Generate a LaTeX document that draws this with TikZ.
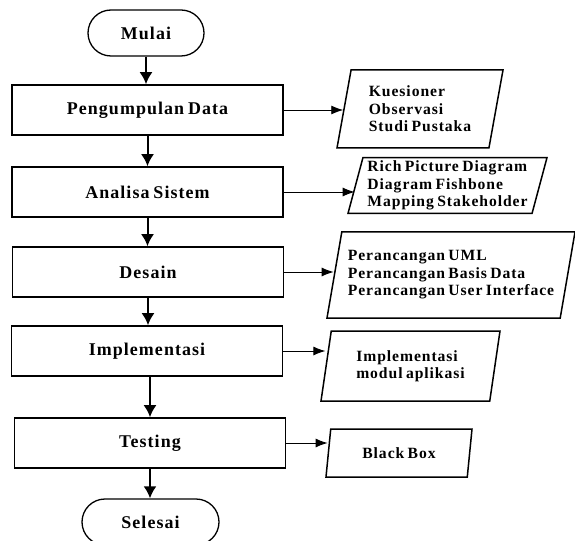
\documentclass[tikz,border=0pt]{standalone}
\usepackage{fontspec}
\setmainfont{Liberation Serif}[LetterSpace=6,WordSpace=0.7]
\usetikzlibrary{shapes.geometric,arrows.meta}

\tikzset{
  stage/.style={draw,line width=1.6bp,minimum width=271bp,minimum height=50bp,
    font=\fontsize{18}{20}\selectfont\bfseries},
  terminal/.style={draw,line width=1.3bp,rounded corners=23bp,minimum height=46bp,
    font=\fontsize{18}{20}\selectfont\bfseries},
  result/.style={draw,trapezium,trapezium left angle=75,trapezium right angle=105,
    trapezium stretches body,line width=1.5bp,align=left,
    font=\fontsize{15.7}{17.5}\selectfont\bfseries},
  flow/.style={line width=2bp,-{Latex[length=12bp,width=13bp]}},
  side/.style={line width=0.9bp,-{Latex[length=12bp,width=9bp]}}
}

\begin{document}
\begin{tikzpicture}[x=1bp,y=-1bp]
\useasboundingbox (0,0) rectangle (575,541);

% alur utama
\node[terminal,minimum width=116bp] (mulai) at (146,33) {Mulai};
\node[stage] (peng) at (147.5,110) {Pengumpulan Data};
\node[stage] (analisa) at (147.5,192) {Analisa Sistem};
\node[stage] (desain) at (148,272) {Desain};
\node[stage] (impl) at (147,351) {Implementasi};
\node[stage] (testing) at (150,443) {Testing};
\node[terminal,minimum width=137bp] (selesai) at (150.5,522) {Selesai};

% keluaran tiap tahap
\node[result,minimum width=166bp,minimum height=78bp] (kues) at (420,109)
  {Kuesioner\\Observasi\\Studi Pustaka};
\node[result,minimum width=199bp,minimum height=55bp] (rich) at (447.5,185.5)
  {Rich Picture Diagram\\Diagram Fishbone\\Mapping Stakeholder};
\node[result,minimum width=248bp,minimum height=86bp] (ranc) at (451,275)
  {Perancangan UML\\Perancangan Basis Data\\Perancangan User Interface};
\node[result,minimum width=179bp,minimum height=70bp] (modul) at (410.5,366)
  {Implementasi\\modul aplikasi};
\node[result,minimum width=146bp,minimum height=48bp] (bbox) at (399,453)
  {Black Box};

\draw[flow] (mulai.south) -- (mulai.south |- peng.north);
\draw[flow] (peng.south) -- (peng.south |- analisa.north);
\draw[flow] (analisa.south) -- (analisa.south |- desain.north);
\draw[flow] (desain.south) -- (desain.south |- impl.north);
\draw[flow] (impl.south -| testing.north) -- (testing.north);
\draw[flow] (testing.south) -- (testing.south |- selesai.north);

\draw[side] (peng.east) -- (peng.east -| kues.west);
\draw[side] (analisa.east) -- (analisa.east -| rich.west);
\draw[side] (desain.east) -- (desain.east -| ranc.west);
\draw[side] (impl.east) -- (impl.east -| modul.west);
\draw[side] (testing.east) -- (testing.east -| bbox.west);

\end{tikzpicture}
\end{document}
